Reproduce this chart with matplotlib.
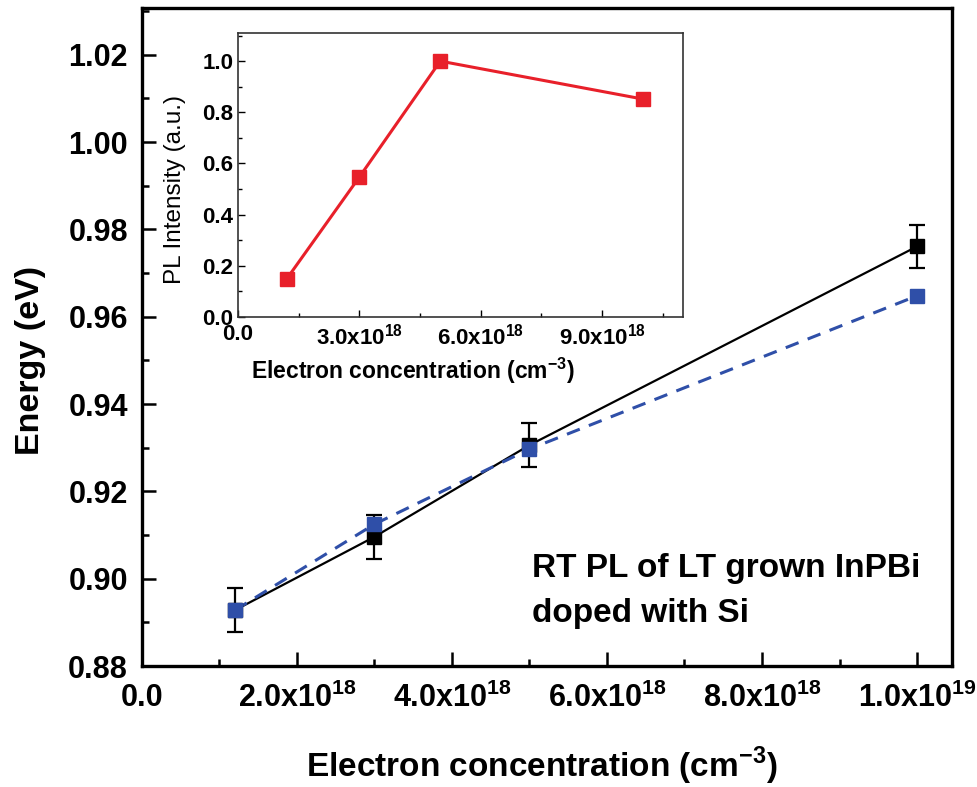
import matplotlib
matplotlib.use("Agg")
import matplotlib.pyplot as plt
from matplotlib.ticker import MultipleLocator

plt.rcParams["font.family"] = ["Liberation Sans", "DejaVu Sans"]
plt.rcParams["mathtext.fontset"] = "custom"
plt.rcParams["mathtext.rm"] = "Liberation Sans"
plt.rcParams["mathtext.bf"] = "Liberation Sans:bold"

# Main panel data (electron concentration in cm^-3, energy in eV)
conc = [1.2e18, 3.0e18, 5.0e18, 1.0e19]
energy_black = [0.8928, 0.9096, 0.9306, 0.9761]
energy_err = [0.005, 0.005, 0.005, 0.005]
energy_blue = [0.8928, 0.9125, 0.9297, 0.9648]

main_xticks = [0, 2e18, 4e18, 6e18, 8e18, 1e19]
main_xlabels = ["0.0", r"$\mathbf{2.0x10^{18}}$", r"$\mathbf{4.0x10^{18}}$",
                r"$\mathbf{6.0x10^{18}}$", r"$\mathbf{8.0x10^{18}}$",
                r"$\mathbf{1.0x10^{19}}$"]

# Inset data
inset_conc = [1.2e18, 3.0e18, 5.0e18, 1.0e19]
pl_intensity = [0.148, 0.547, 1.0, 0.852]
inset_xticks = [0, 3e18, 6e18, 9e18]
inset_xlabels = ["0.0", r"$\mathbf{3.0x10^{18}}$", r"$\mathbf{6.0x10^{18}}$",
                 r"$\mathbf{9.0x10^{18}}$"]

blue = "#2f4fa8"
red = "#e8202a"

fig = plt.figure(figsize=(9.77, 7.87), dpi=100)

# ---- main axes ----
ax = fig.add_axes([0.1453, 0.1537, 0.829, 0.836])
ax.plot(conc, energy_black, color="black", lw=1.6, zorder=2)
ax.errorbar(conc, energy_black, yerr=energy_err, fmt="s", color="black",
            ms=10, elinewidth=1.6, capsize=5.5, capthick=1.6, zorder=3)
ax.plot(conc, energy_blue, color=blue, lw=2.2, ls=(0, (4.5, 3.2)), zorder=2)
ax.plot(conc, energy_blue, "s", color=blue, ms=10, zorder=4)

ax.set_xlim(0, 1.045e19)
ax.set_ylim(0.88, 1.0307)
ax.set_xticks(main_xticks)
ax.set_xticklabels(main_xlabels)
ax.xaxis.set_minor_locator(MultipleLocator(1e18))
ax.yaxis.set_major_locator(MultipleLocator(0.02))
ax.yaxis.set_minor_locator(MultipleLocator(0.01))
ax.yaxis.set_major_formatter(plt.FormatStrFormatter("%.2f"))
ax.tick_params(which="major", direction="in", length=10, width=1.8,
               labelsize=22, pad=10)
ax.tick_params(axis="x", which="major", pad=12)
ax.tick_params(which="minor", direction="in", length=5, width=1.8)
for lab in ax.get_yticklabels() + ax.get_xticklabels():
    lab.set_fontweight("bold")
for sp in ax.spines.values():
    sp.set_linewidth(2.4)

ax.set_xlabel(r"Electron concentration (cm$^{\mathbf{-3}}$)", fontsize=24,
              fontweight="bold")
ax.xaxis.set_label_coords(0.493, -0.12)
ax.set_ylabel("Energy (eV)", fontsize=24.5, fontweight="bold")
ax.yaxis.set_label_coords(-0.118, 0.465)

ax.text(5.03e18, 0.9004, "RT PL of LT grown InPBi", fontsize=24,
        fontweight="bold", ha="left", va="baseline")
ax.text(5.03e18, 0.8901, "doped with Si", fontsize=24,
        fontweight="bold", ha="left", va="baseline")

# ---- inset ----
ins = fig.add_axes([0.2436, 0.5972, 0.4555, 0.3609])
ins.plot(inset_conc, pl_intensity, "-s", color=red, lw=2.2, ms=9.5)
ins.set_xlim(0, 1.1e19)
ins.set_ylim(0, 1.11)
ins.set_xticks(inset_xticks)
ins.set_xticklabels(inset_xlabels)
ins.xaxis.set_minor_locator(MultipleLocator(1.5e18))
ins.yaxis.set_major_locator(MultipleLocator(0.2))
ins.yaxis.set_minor_locator(MultipleLocator(0.1))
ins.yaxis.set_major_formatter(plt.FormatStrFormatter("%.1f"))
ins.tick_params(which="major", direction="in", length=5, width=1.0,
                labelsize=16)
ins.tick_params(axis="y", which="major", pad=3.5)
ins.tick_params(axis="x", which="major", pad=5)
ins.tick_params(which="minor", direction="in", length=3, width=1.0)
for lab in ins.get_yticklabels() + ins.get_xticklabels():
    lab.set_fontweight("bold")
for sp in ins.spines.values():
    sp.set_linewidth(1.2)
    sp.set_color("#333333")
ins.set_xlabel(r"Electron concentration (cm$^{\mathbf{-3}}$)", fontsize=16.5,
               fontweight="bold")
ins.xaxis.set_label_coords(0.393, -0.135)
ins.set_ylabel("PL Intensity (a.u.)", fontsize=17.5)
ins.yaxis.set_label_coords(-0.117, 0.45)

fig.savefig("out.png", dpi=100)
